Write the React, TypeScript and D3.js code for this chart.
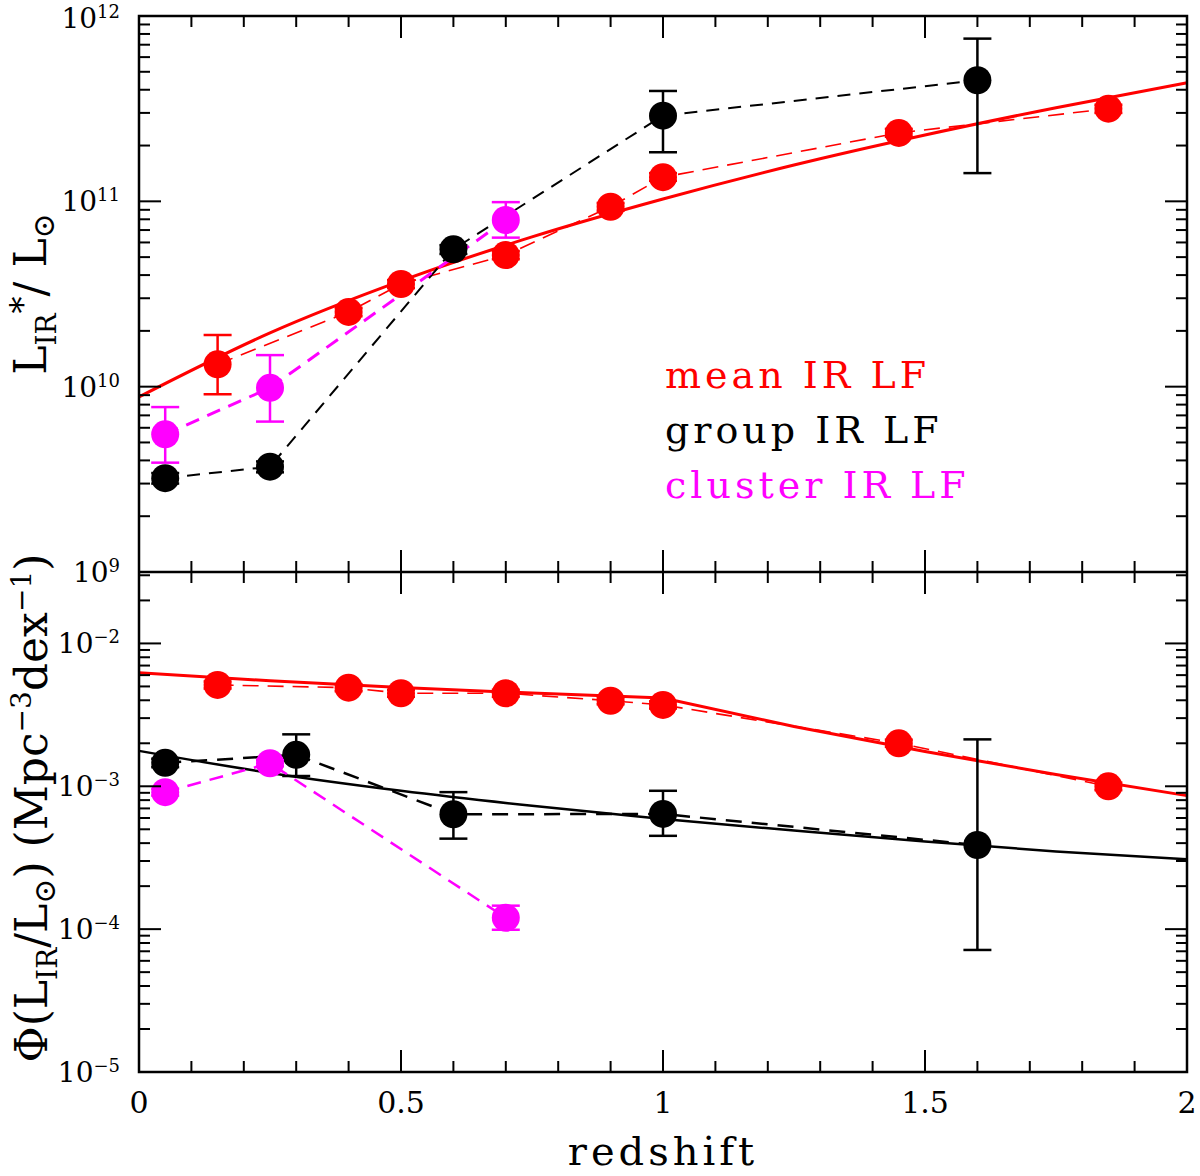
import * as d3 from "d3";

// redshift bins and values
const meanZ = [0.15, 0.4, 0.5, 0.7, 0.9, 1.0, 1.45, 1.85];
const meanLstar = [1.32e10, 2.53e10, 3.58e10, 5.13e10, 9.35e10, 1.35e11, 2.34e11, 3.16e11];
const meanLstarLo = [9.1e9, 2.40e10, 3.40e10, 4.87e10, 8.9e10, 1.29e11, 2.23e11, 3.0e11];
const meanLstarHi = [1.90e10, 2.66e10, 3.76e10, 5.39e10, 9.8e10, 1.42e11, 2.46e11, 3.32e11];
const meanPhi = [5.12e-3, 4.90e-3, 4.48e-3, 4.48e-3, 3.97e-3, 3.71e-3, 2.00e-3, 1.00e-3];
const meanPhiLo = [4.83e-3, 4.63e-3, 4.23e-3, 4.23e-3, 3.75e-3, 3.50e-3, 1.89e-3, 0.94e-3];
const meanPhiHi = [5.42e-3, 5.19e-3, 4.74e-3, 4.74e-3, 4.20e-3, 3.93e-3, 2.12e-3, 1.06e-3];

const groupLZ = [0.05, 0.25, 0.6, 1.0, 1.6];
const groupLstar = [3.21e9, 3.70e9, 5.51e10, 2.90e11, 4.50e11];
const groupLstarLo = [3.0e9, 3.45e9, 5.2e10, 1.84e11, 1.42e11];
const groupLstarHi = [3.42e9, 3.95e9, 5.8e10, 3.94e11, 7.55e11];
const groupPZ = [0.05, 0.3, 0.6, 1.0, 1.6];
const groupPhi = [1.46e-3, 1.66e-3, 6.37e-4, 6.4e-4, 3.88e-4];
const groupPhiLo = [1.36e-3, 1.18e-3, 4.3e-4, 4.5e-4, 7.15e-5];
const groupPhiHi = [1.56e-3, 2.31e-3, 9.1e-4, 9.3e-4, 2.13e-3];

const clusterZ = [0.05, 0.25, 0.7];
const clusterLstar = [5.53e9, 9.86e9, 7.93e10];
const clusterLstarLo = [3.89e9, 6.48e9, 6.37e10];
const clusterLstarHi = [7.76e9, 1.48e10, 9.9e10];
const clusterPhi = [9.1e-4, 1.45e-3, 1.20e-4];
const clusterPhiLo = [8.6e-4, 1.38e-3, 9.9e-5];
const clusterPhiHi = [9.6e-4, 1.52e-3, 1.46e-4];

// evolution fits (solid lines)
const fitZ = [0, 0.25, 0.5, 0.75, 1, 1.25, 1.5, 1.75, 2];
const meanLstarFit = [8.81e9, 1.95e10, 3.72e10, 6.43e10, 1.03e11, 1.57e11, 2.28e11, 3.20e11, 4.36e11];
const meanPhiFit = [6.24e-3, 5.47e-3, 4.91e-3, 4.49e-3, 4.15e-3, 2.62e-3, 1.75e-3, 1.21e-3, 8.6e-4];
const groupPhiFit = [1.77e-3, 1.24e-3, 9.3e-4, 7.3e-4, 5.9e-4, 4.9e-4, 4.1e-4, 3.5e-4, 3.08e-4];

const xTickLabels = ["0", "0.5", "1", "1.5", "2"];
const legendLabels = ["mean IR LF", "group IR LF", "cluster IR LF"];

const RED = "#ff0000";
const MAG = "#ff00ff";
const BLK = "#000000";
const SERIF = "'DejaVu Serif', serif";

const L = 139, R = 1187, T = 16, MID = 572, B = 1072;

const x = d3.scaleLinear().domain([0, 2]).range([L, R]);
const yTop = d3.scaleLog().domain([1e9, 1e12]).range([MID, T]);
const yBot = d3.scaleLog().domain([1e-5, Math.pow(10, -1.5)]).range([B, MID]);

type Scale = d3.ScaleLogarithmic<number, number>;

function path(zs: number[], vs: number[], y: Scale, smooth = false) {
    const line = d3.line<number>().x((_, i) => x(zs[i])).y((v) => y(v));
    if (smooth) line.curve(d3.curveMonotoneX);
    return line(vs) || "";
}

function Points({ zs, vs, lo, hi, y, color }: {
    zs: number[]; vs: number[]; lo: number[]; hi: number[]; y: Scale; color: string;
}) {
    return (
        <g>
            {zs.map((z, i) => (
                <g key={"e" + i} stroke={color} strokeWidth={2.5}>
                    <line x1={x(z)} x2={x(z)} y1={y(lo[i])} y2={y(hi[i])} />
                    <line x1={x(z) - 14} x2={x(z) + 14} y1={y(lo[i])} y2={y(lo[i])} />
                    <line x1={x(z) - 14} x2={x(z) + 14} y1={y(hi[i])} y2={y(hi[i])} />
                </g>
            ))}
            {zs.map((z, i) => (
                <circle key={"c" + i} cx={x(z)} cy={y(vs[i])} r={14} fill={color} />
            ))}
        </g>
    );
}

const isDecade = (t: number) => Math.abs(Math.log10(t) - Math.round(Math.log10(t))) < 1e-6;

function YTicks({ y }: { y: Scale }) {
    return (
        <g stroke={BLK} strokeWidth={2}>
            {y.ticks().map((t, i) => {
                const len = isDecade(t) ? 22 : 11;
                return (
                    <g key={i}>
                        <line x1={L} x2={L + len} y1={y(t)} y2={y(t)} />
                        <line x1={R} x2={R - len} y1={y(t)} y2={y(t)} />
                    </g>
                );
            })}
        </g>
    );
}

function YLabels({ y }: { y: Scale }) {
    return (
        <g fontFamily={SERIF} fill={BLK}>
            {y.ticks().filter(isDecade).map((t, i) => {
                const e = Math.round(Math.log10(t));
                return (
                    <text key={i} x={120} y={Math.max(y(t) + 10, 28)} textAnchor="end" fontSize={28}>
                        10<tspan dy={-10} fontSize={18}>{e < 0 ? "\u2212" + -e : String(e)}</tspan>
                    </text>
                );
            })}
        </g>
    );
}

export default function App() {
    const xt = x.ticks(20);
    return (
        <svg width={1200} height={1176} style={{ position: "absolute", left: 0, top: 0, background: "#fff" }}>
            <rect width={1200} height={1176} fill="#fff" />

            {/* top panel: L* */}
            <path d={path(fitZ, meanLstarFit, yTop, true)} fill="none" stroke={RED} strokeWidth={3} />
            <path d={path(meanZ, meanLstar, yTop)} fill="none" stroke={RED} strokeWidth={1.6} strokeDasharray="16 9" />
            <path d={path(groupLZ, groupLstar, yTop)} fill="none" stroke={BLK} strokeWidth={2} strokeDasharray="13 9" />
            <path d={path(clusterZ, clusterLstar, yTop)} fill="none" stroke={MAG} strokeWidth={3} strokeDasharray="14 9" />
            <Points zs={meanZ} vs={meanLstar} lo={meanLstarLo} hi={meanLstarHi} y={yTop} color={RED} />
            <Points zs={clusterZ} vs={clusterLstar} lo={clusterLstarLo} hi={clusterLstarHi} y={yTop} color={MAG} />
            <Points zs={groupLZ} vs={groupLstar} lo={groupLstarLo} hi={groupLstarHi} y={yTop} color={BLK} />

            {/* bottom panel: phi* */}
            <path d={path(fitZ, meanPhiFit, yBot)} fill="none" stroke={RED} strokeWidth={3} />
            <path d={path(fitZ, groupPhiFit, yBot, true)} fill="none" stroke={BLK} strokeWidth={2.5} />
            <path d={path(meanZ, meanPhi, yBot)} fill="none" stroke={RED} strokeWidth={1.6} strokeDasharray="16 9" />
            <path d={path(groupPZ, groupPhi, yBot)} fill="none" stroke={BLK} strokeWidth={2.5} strokeDasharray="16 10" />
            <path d={path(clusterZ, clusterPhi, yBot)} fill="none" stroke={MAG} strokeWidth={2.5} strokeDasharray="14 9" />
            <Points zs={meanZ} vs={meanPhi} lo={meanPhiLo} hi={meanPhiHi} y={yBot} color={RED} />
            <Points zs={groupPZ} vs={groupPhi} lo={groupPhiLo} hi={groupPhiHi} y={yBot} color={BLK} />
            <Points zs={clusterZ} vs={clusterPhi} lo={clusterPhiLo} hi={clusterPhiHi} y={yBot} color={MAG} />

            {/* frames */}
            <rect x={L} y={T} width={R - L} height={B - T} fill="none" stroke={BLK} strokeWidth={2.5} />
            <line x1={L} x2={R} y1={MID} y2={MID} stroke={BLK} strokeWidth={2.5} />

            {/* x ticks */}
            <g stroke={BLK} strokeWidth={2}>
                {xt.map((t, i) => {
                    const major = Math.abs(t * 2 - Math.round(t * 2)) < 1e-6;
                    const len = major ? 22 : 11;
                    return (
                        <g key={i}>
                            <line x1={x(t)} x2={x(t)} y1={T} y2={T + len} />
                            <line x1={x(t)} x2={x(t)} y1={MID - len} y2={MID + len} />
                            <line x1={x(t)} x2={x(t)} y1={B} y2={B - len} />
                        </g>
                    );
                })}
            </g>
            <YTicks y={yTop} />
            <YTicks y={yBot} />
            <YLabels y={yTop} />
            <YLabels y={yBot} />

            <g fontFamily={SERIF} fontSize={30} textAnchor="middle">
                {xTickLabels.map((s) => (
                    <text key={s} x={x(+s)} y={1113}>{s}</text>
                ))}
            </g>
            <text x={x(1)} y={1165} textAnchor="middle" fontFamily={SERIF} fontSize={40} letterSpacing={4}>redshift</text>

            {/* legend */}
            <g fontFamily={SERIF} fontSize={38} letterSpacing={4}>
                {legendLabels.map((s, i) => {
                    const c = [RED, BLK, MAG][i];
                    return (
                        <text key={s} x={665} y={388 + i * 55} fill={c}>{s}</text>
                    );
                })}
            </g>

            {/* y axis titles */}
            <text transform="translate(46,294) rotate(-90)" textAnchor="middle" fontFamily={SERIF} fontSize={44}>
                L<tspan dy={10} fontSize={28}>IR</tspan>
                <tspan dy={-22} fontSize={34}>*</tspan>
                <tspan dy={12} fontSize={44}>/ L</tspan>
                <tspan dy={8} fontSize={30}>{"\u2299"}</tspan>
            </text>
            <text transform="translate(47,808) rotate(-90)" textAnchor="middle" fontFamily={SERIF} fontSize={44}>
                {"\u03A6(L"}<tspan dy={10} fontSize={28}>IR</tspan>
                <tspan dy={-10} fontSize={44}>/L</tspan>
                <tspan dy={8} fontSize={30}>{"\u2299"}</tspan>
                <tspan dy={-8} fontSize={44}>{")  (Mpc"}</tspan>
                <tspan dy={-16} fontSize={28}>{"\u22123"}</tspan>
                <tspan dy={16} fontSize={44}>dex</tspan>
                <tspan dy={-16} fontSize={28}>{"\u22121"}</tspan>
                <tspan dy={16} fontSize={44}>)</tspan>
            </text>
        </svg>
    );
}
